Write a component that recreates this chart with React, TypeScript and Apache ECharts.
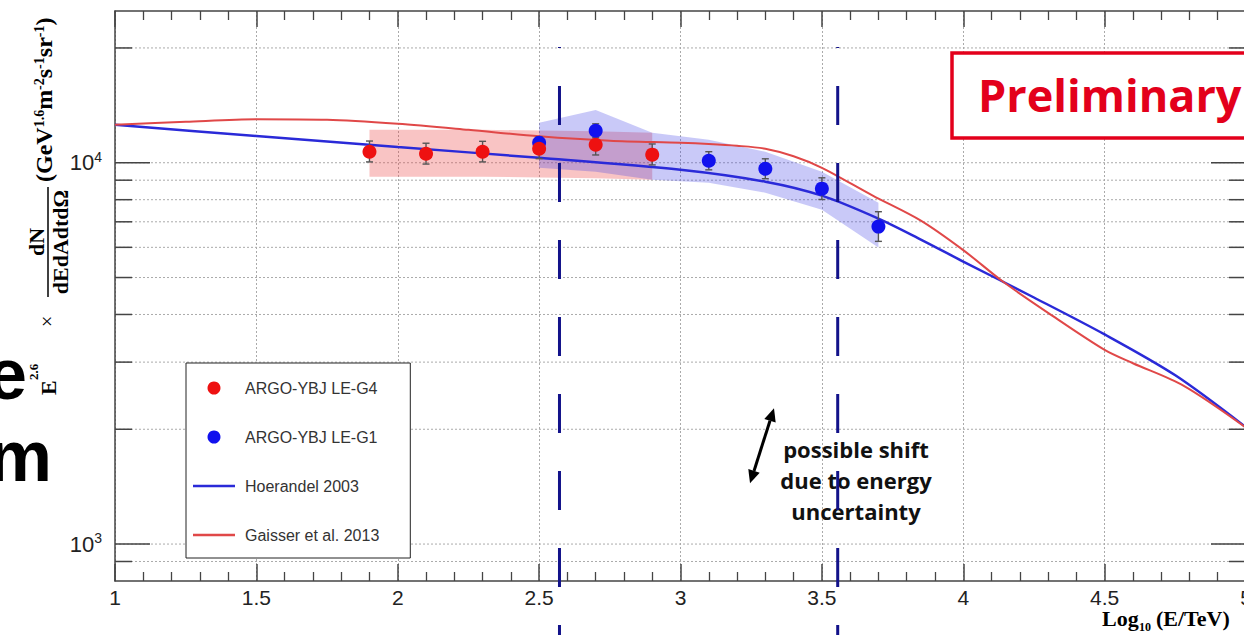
import React, { useEffect, useRef } from 'react';
import * as echarts from 'echarts';

// ---------------- data ----------------
const g4X = [1.9, 2.1, 2.3, 2.5, 2.7, 2.9];
const g4Y = [10690, 10560, 10690, 10880, 11150, 10500];
const g4Lo = [10050, 9920, 10050, 10250, 10480, 9870];
const g4Hi = [11400, 11250, 11380, 11600, 11900, 11200];
const g4BandUpper = [12200, 12200, 12200, 12150, 12100, 11980];
const g4BandLower = [9190, 9190, 9190, 9150, 9100, 9030];

const g1X = [2.5, 2.7, 3.1, 3.3, 3.5, 3.7];
const g1Y = [11280, 12130, 10120, 9645, 8550, 6800];
const g1Lo = [10880, 11630, 9580, 9080, 8010, 6220];
const g1Hi = [11700, 12650, 10690, 10240, 9130, 7440];
const g1BandX = [2.5, 2.7, 2.9, 3.1, 3.3, 3.5, 3.7];
const g1BandUpper = [12725, 13760, 11983, 11489, 10685, 9472, 7858];
const g1BandLower = [9703, 9472, 9026, 8863, 8345, 7533, 5990];

const hoerX = [1, 1.5, 2, 2.5, 3, 3.3, 3.5, 3.7, 3.85, 4, 4.25, 4.5, 4.75, 5];
const hoerY = [12575, 11750, 10990, 10306, 9587, 8919, 8197, 7135, 6287, 5506, 4432, 3546, 2770, 2024];

const gaisX = [1, 1.25, 1.5, 1.75, 2, 2.25, 2.5, 2.75, 3, 3.1, 3.2, 3.3, 3.4, 3.5, 3.68, 3.85, 4, 4.14, 4.3, 4.5, 4.6, 4.78, 5];
const gaisY = [12575, 12800, 13000, 12960, 12650, 12200, 11730, 11420, 11280, 11200, 11080, 10880, 10400, 9700, 8200, 7050, 5900, 4880, 4040, 3230, 2980, 2600, 2020];

const yGridValues = [900, 1000, 2000, 3000, 4000, 5000, 6000, 7000, 8000, 9000, 10000, 20000];
const yMajorValues = [1000, 10000];
const shiftLines = [2.572, 3.556];

const legendNames = ['ARGO-YBJ LE-G4', 'ARGO-YBJ LE-G1', 'Hoerandel 2003', 'Gaisser et al. 2013'];

const RED = '#ee1111';
const BLUE = '#1111ee';
const HOER = '#2a2ad8';
const GAIS = '#e04848';
const SERIF = '"Liberation Serif", "DejaVu Serif", serif';
const SANS = '"Liberation Sans", Arial, sans-serif';
const LINE_ICON = 'path://M0,0 L42,0 L42,2.5 L0,2.5 Z';

function bandSeries(xs: number[], up: number[], lo: number[], fill: string, z: number) {
  return {
    type: 'custom',
    coordinateSystem: 'cartesian2d',
    silent: true,
    z,
    data: [[xs[0], up[0]]],
    encode: { x: 0, y: 1 },
    renderItem: (_p: any, api: any) => {
      const pts: number[][] = [];
      xs.forEach((x, i) => pts.push(api.coord([x, up[i]])));
      for (let i = xs.length - 1; i >= 0; i--) pts.push(api.coord([xs[i], lo[i]]));
      return { type: 'polygon', shape: { points: pts }, style: { fill } };
    },
  };
}

function errSeries(xs: number[], lo: number[], hi: number[]) {
  return {
    type: 'custom',
    coordinateSystem: 'cartesian2d',
    silent: true,
    z: 4,
    data: xs.map((x, i) => [x, lo[i], hi[i]]),
    encode: { x: 0, y: [1, 2] },
    renderItem: (_p: any, api: any) => {
      const x = api.value(0);
      const a = api.coord([x, api.value(1)]);
      const b = api.coord([x, api.value(2)]);
      const st = { stroke: '#555', lineWidth: 1.4 };
      const c = 3.5;
      return {
        type: 'group',
        children: [
          { type: 'line', shape: { x1: a[0], y1: a[1], x2: b[0], y2: b[1] }, style: st },
          { type: 'line', shape: { x1: a[0] - c, y1: a[1], x2: a[0] + c, y2: a[1] }, style: st },
          { type: 'line', shape: { x1: b[0] - c, y1: b[1], x2: b[0] + c, y2: b[1] }, style: st },
        ],
      };
    },
  };
}

export default function App() {
  const ref = useRef<HTMLDivElement>(null);
  useEffect(() => {
    const chart = echarts.init(ref.current!, null, { renderer: 'svg' });
    const xAxisCommon = {
      type: 'value',
      min: 1,
      max: 5,
      interval: 0.5,
      axisLine: { show: true, onZero: false, lineStyle: { color: '#444', width: 1.5 } },
      minorTick: { show: true, splitNumber: 5, length: 9, lineStyle: { color: '#444', width: 1.3 } },
    };
    const option: any = {
      animation: false,
      backgroundColor: '#fff',
      grid: { left: 115, top: 11, width: 1131, height: 570, containLabel: false, outerBoundsMode: 'none' },
      xAxis: [
        {
          ...xAxisCommon,
          position: 'bottom',
          axisTick: { show: true, inside: true, length: 17, lineStyle: { color: '#444', width: 1.5 } },
          splitLine: { show: true, lineStyle: { color: '#aaa', width: 1, type: [2, 2] } },
          axisLabel: {
            show: true,
            margin: 6,
            fontSize: 21,
            fontFamily: SANS,
            color: '#222',
            showMinLabel: true,
            showMaxLabel: true,
            hideOverlap: false,
            formatter: (v: number) => String(v),
          },
        },
        {
          ...xAxisCommon,
          position: 'top',
          axisTick: { show: true, inside: true, length: 16, lineStyle: { color: '#444', width: 1.5 } },
          splitLine: { show: false },
          axisLabel: { show: false },
        },
      ],
      yAxis: {
        type: 'log',
        logBase: 10,
        min: 800,
        max: 25000,
        axisLine: { show: true, lineStyle: { color: '#444', width: 1.5 } },
        axisTick: { show: false },
        splitLine: { show: false },
        axisLabel: {
          margin: 13,
          formatter: (v: number) => {
            const e = Math.log10(v);
            const r = Math.round(e);
            if (Math.abs(e - r) > 1e-6) return '';
            return `{n|10}{s|${r}}`;
          },
          rich: {
            n: { fontSize: 22, fontFamily: SANS, color: '#222' },
            s: { fontSize: 14, fontFamily: SANS, color: '#222', padding: [0, 0, 12, 0] },
          },
        },
      },
      legend: {
        orient: 'vertical',
        left: 186,
        top: 363,
        padding: [17, 31, 15, 7],
        itemWidth: 42,
        itemHeight: 13,
        itemGap: 33,
        backgroundColor: '#fff',
        borderColor: '#222',
        borderWidth: 1,
        z: 20,
        textStyle: { fontFamily: SANS, fontSize: 16, color: '#333', padding: [0, 0, 0, 5] },
        data: [
          { name: legendNames[0], icon: 'circle' },
          { name: legendNames[1], icon: 'circle' },
          { name: legendNames[2], icon: LINE_ICON },
          { name: legendNames[3], icon: LINE_ICON },
        ],
      },
      series: [
        {
          type: 'custom',
          coordinateSystem: 'cartesian2d',
          silent: true,
          z: 0,
          data: yGridValues.map((v) => [1, v, yMajorValues.includes(v) ? 1 : 0]),
          encode: { x: 0, y: 1 },
          renderItem: (params: any, api: any) => {
            const cs = params.coordSys;
            const p = api.coord([1, api.value(1)]);
            const y = p[1];
            const len = api.value(2) ? 35 : 17;
            const x0 = cs.x;
            const x1 = cs.x + cs.width;
            const tk = { stroke: '#444', lineWidth: 1.5 };
            return {
              type: 'group',
              children: [
                { type: 'line', shape: { x1: x0, y1: y, x2: x1, y2: y }, style: { stroke: '#aaa', lineWidth: 1, lineDash: [2, 2] } },
                { type: 'line', shape: { x1: x0, y1: y, x2: x0 + len, y2: y }, style: tk },
                { type: 'line', shape: { x1: x1 - len, y1: y, x2: x1, y2: y }, style: tk },
              ],
            };
          },
        },
        bandSeries(g4X, g4BandUpper, g4BandLower, 'rgba(235,60,60,0.3)', 1),
        bandSeries(g1BandX, g1BandUpper, g1BandLower, 'rgba(60,60,230,0.28)', 1),
        {
          name: legendNames[2],
          type: 'line',
          data: hoerX.map((x, i) => [x, hoerY[i]]),
          symbol: 'none',
          smooth: 0.3,
          z: 3,
          lineStyle: { color: HOER, width: 2.5 },
          itemStyle: { color: HOER },
        },
        {
          name: legendNames[3],
          type: 'line',
          data: gaisX.map((x, i) => [x, gaisY[i]]),
          symbol: 'none',
          smooth: 0.3,
          z: 3,
          lineStyle: { color: GAIS, width: 2 },
          itemStyle: { color: GAIS },
        },
        errSeries(g4X, g4Lo, g4Hi),
        errSeries(g1X, g1Lo, g1Hi),
        {
          name: legendNames[1],
          type: 'scatter',
          data: g1X.map((x, i) => [x, g1Y[i]]),
          symbolSize: 14,
          z: 5,
          itemStyle: { color: BLUE, opacity: 1 },
        },
        {
          name: legendNames[0],
          type: 'scatter',
          data: g4X.map((x, i) => [x, g4Y[i]]),
          symbolSize: 14,
          z: 6,
          itemStyle: { color: RED, opacity: 1 },
        },
      ],
    };
    chart.setOption(option);

    const px = shiftLines.map((v) => chart.convertToPixel({ xAxisIndex: 0 }, v) as number);
    const graphic: any[] = [];
    // big cut-off slide letters (behind the axis title)
    graphic.push({ type: 'text', x: 27, y: 410, z: 40, style: { text: 'e', font: `bold 72px ${SANS}`, fill: '#000', align: 'right', verticalAlign: 'bottom' } });
    graphic.push({ type: 'text', x: 52, y: 492, z: 40, style: { text: 'm', font: `bold 72px ${SANS}`, fill: '#000', align: 'right', verticalAlign: 'bottom' } });
    // y-axis title (rotated)
    graphic.push({
      type: 'group',
      x: 0,
      y: 395,
      rotation: Math.PI / 2,
      z: 50,
      children: [
        { type: 'text', z: 50, x: 0, y: 48, style: { text: 'E', font: `bold 22px ${SERIF}`, fill: '#000', align: 'left', verticalAlign: 'middle' } },
        { type: 'text', z: 50, x: 15, y: 33, style: { text: '2.6', font: `bold 13px ${SERIF}`, fill: '#000', align: 'left', verticalAlign: 'middle' } },
        { type: 'text', z: 50, x: 68, y: 47, style: { text: '×', font: `20px ${SERIF}`, fill: '#000', align: 'left', verticalAlign: 'middle' } },
        { type: 'text', z: 50, x: 153, y: 36, style: { text: 'dN', font: `bold 22px ${SERIF}`, fill: '#000', align: 'center', verticalAlign: 'middle' } },
        { type: 'line', z: 50, shape: { x1: 98, y1: 48, x2: 208, y2: 48 }, style: { stroke: '#000', lineWidth: 1.5 } },
        { type: 'text', z: 50, x: 153, y: 60, style: { text: 'dEdAdtdΩ', font: `bold 22px ${SERIF}`, fill: '#000', align: 'center', verticalAlign: 'middle' } },
        {
          type: 'text',
          z: 50,
          x: 213,
          y: 44,
          style: {
            text: '{a|(GeV}{b|1.6}{a|m}{b|-2}{a|s}{b|-1}{a|sr}{b|-1}{a|)}',
            align: 'left',
            verticalAlign: 'middle',
            rich: {
              a: { font: `bold 24px ${SERIF}`, fill: '#000', verticalAlign: 'bottom' },
              b: { font: `bold 14px ${SERIF}`, fill: '#000', verticalAlign: 'top' },
            },
          },
        },
      ],
    });
    // x-axis title
    graphic.push({ type: 'text', x: 1102, y: 618, z: 50, style: { text: 'Log', font: `bold 22px ${SERIF}`, fill: '#000', align: 'left', verticalAlign: 'middle' } });
    graphic.push({ type: 'text', x: 1139, y: 627, z: 50, style: { text: '10', font: `bold 12px ${SERIF}`, fill: '#000', align: 'left', verticalAlign: 'middle' } });
    graphic.push({ type: 'text', x: 1156, y: 618, z: 50, style: { text: '(E/TeV)', font: `bold 22px ${SERIF}`, fill: '#000', align: 'left', verticalAlign: 'middle' } });
    // Preliminary box
    graphic.push({ type: 'rect', z: 60, shape: { x: 952, y: 53, width: 320, height: 85 }, style: { fill: '#fff', stroke: '#e3001b', lineWidth: 3.5 } });
    graphic.push({ type: 'text', z: 61, x: 978, y: 94, style: { text: 'Preliminary', font: 'bold 45px "Open Sans", sans-serif', fill: '#e3001b', align: 'left', verticalAlign: 'middle' } });
    // annotation text
    graphic.push({
      type: 'text',
      z: 60,
      x: 856,
      y: 480,
      style: {
        text: 'possible shift\ndue to energy\nuncertainty',
        font: 'bold 22px "Open Sans", sans-serif',
        lineHeight: 31,
        fill: '#111',
        align: 'center',
        verticalAlign: 'middle',
      },
    });
    // double arrow
    graphic.push({ type: 'line', z: 60, shape: { x1: 754, y1: 471, x2: 770, y2: 420.7 }, style: { stroke: '#000', lineWidth: 3 } });
    graphic.push({ type: 'polygon', z: 60, shape: { points: [[774, 408.3], [775.7, 422.5], [764.3, 418.9]] }, style: { fill: '#000' } });
    graphic.push({ type: 'polygon', z: 60, shape: { points: [[750, 483.3], [759.7, 472.7], [748.3, 469.1]] }, style: { fill: '#000' } });
    // dashed shift lines
    px.forEach((x) => {
      graphic.push({
        type: 'line',
        z: 70,
        shape: { x1: x, y1: 47, x2: x, y2: 635 },
        style: { stroke: '#12128a', lineWidth: 3, lineDash: [39, 38], lineDashOffset: 38 },
      });
    });
    chart.setOption({ graphic });
    return () => chart.dispose();
  }, []);
  return (
    <div
      ref={ref}
      style={{ position: 'fixed', left: 0, top: 0, width: 1244, height: 635, background: '#fff' }}
    />
  );
}
